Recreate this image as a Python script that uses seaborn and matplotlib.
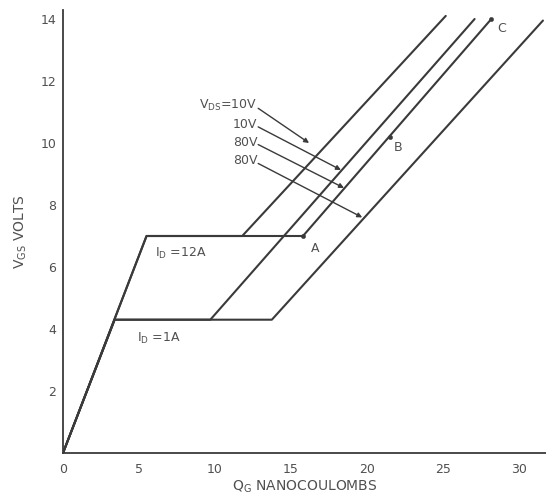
import pandas as pd
import matplotlib
matplotlib.use("Agg")
import matplotlib.pyplot as plt
import seaborn as sns

sns.set_theme(style="white")
plt.rcParams['font.family'] = ['DejaVu Sans']

# gate charge curves (Q_G in nC, V_GS in V)
curve_12A_10V_q = [0, 5.5, 11.8, 25.2]
curve_12A_10V_v = [0, 7.0, 7.0, 14.1]
curve_12A_80V_q = [0, 5.5, 15.8, 28.2]
curve_12A_80V_v = [0, 7.0, 7.0, 14.0]
curve_1A_10V_q = [0, 3.4, 9.7, 27.1]
curve_1A_10V_v = [0, 4.3, 4.3, 14.0]
curve_1A_80V_q = [0, 3.4, 13.75, 31.6]
curve_1A_80V_v = [0, 4.3, 4.3, 13.95]

# marked points A, B, C
point_names = ["A", "B", "C"]
point_q = [15.8, 21.5, 28.2]
point_v = [7.0, 10.2, 14.0]

# V_DS labels and where their arrows land
vds_labels = ["V$_\\mathrm{DS}$=10V", "10V", "80V", "80V"]
vds_label_v = [11.2, 10.6, 10.03, 9.42]
arrow_q = [16.2, 18.3, 18.5, 19.7]
arrow_v = [10.0, 9.13, 8.55, 7.6]

x_ticks = [0, 5, 10, 15, 20, 25, 30]
y_ticks = [2, 4, 6, 8, 10, 12, 14]

rows = []
for name, qs, vs in [("12A 10V", curve_12A_10V_q, curve_12A_10V_v),
                     ("12A 80V", curve_12A_80V_q, curve_12A_80V_v),
                     ("1A 10V", curve_1A_10V_q, curve_1A_10V_v),
                     ("1A 80V", curve_1A_80V_q, curve_1A_80V_v)]:
    for i, (q, v) in enumerate(zip(qs, vs)):
        rows.append({"curve": name, "order": i, "q": q, "v": v})
df = pd.DataFrame(rows)

line_col = "#3a3a3a"
text_col = "#505050"

fig = plt.figure(figsize=(5.46, 4.98), dpi=100)
ax = fig.add_axes([63 / 546, 45 / 498, 1 - 63 / 546, 443.3 / 498])

sns.lineplot(data=df, x="q", y="v", hue="curve", units="curve", estimator=None,
             sort=False, palette=[line_col] * 4, linewidth=1.5, legend=False, ax=ax)
sns.scatterplot(x=point_q, y=point_v, color=line_col, s=10, edgecolor=line_col, ax=ax)

ax.set_xlim(0, 31.8)
ax.set_ylim(0, 14.3)
ax.set_xticks(x_ticks)
ax.set_yticks(y_ticks)
ax.tick_params(length=0, labelsize=9, colors=text_col)
ax.tick_params(axis="x", pad=7)
ax.tick_params(axis="y", pad=5)
sns.despine(ax=ax)
for s in ["left", "bottom"]:
    ax.spines[s].set_color(line_col)
    ax.spines[s].set_linewidth(1.3)

ax.set_xlabel("Q$_\\mathrm{G}$ NANOCOULOMBS", fontsize=10, color=text_col, labelpad=2)
ax.set_ylabel("V$_\\mathrm{GS}$ VOLTS", fontsize=10, color=text_col, labelpad=8)

ax.text(6.05, 6.45, "I$_\\mathrm{D}$ =12A", fontsize=9, color=text_col, va="center")
ax.text(4.87, 3.71, "I$_\\mathrm{D}$ =1A", fontsize=9, color=text_col, va="center")

for name, q, v, dq, dv in zip(point_names, point_q, point_v, [0.5, 0.3, 0.4], [-0.4, -0.35, -0.3]):
    ax.text(q + dq, v + dv, name, fontsize=9, color=text_col, va="center")

for lbl, lv, aq, av in zip(vds_labels, vds_label_v, arrow_q, arrow_v):
    ax.text(12.8, lv, lbl, ha="right", va="center", fontsize=9, color=text_col)
    ax.annotate("", xy=(aq, av), xytext=(12.85, lv - 0.08),
                arrowprops=dict(arrowstyle="-|>", color=line_col, lw=1.0,
                                shrinkA=0, shrinkB=0, mutation_scale=7))

fig.savefig("out.png", dpi=100, facecolor="white")
